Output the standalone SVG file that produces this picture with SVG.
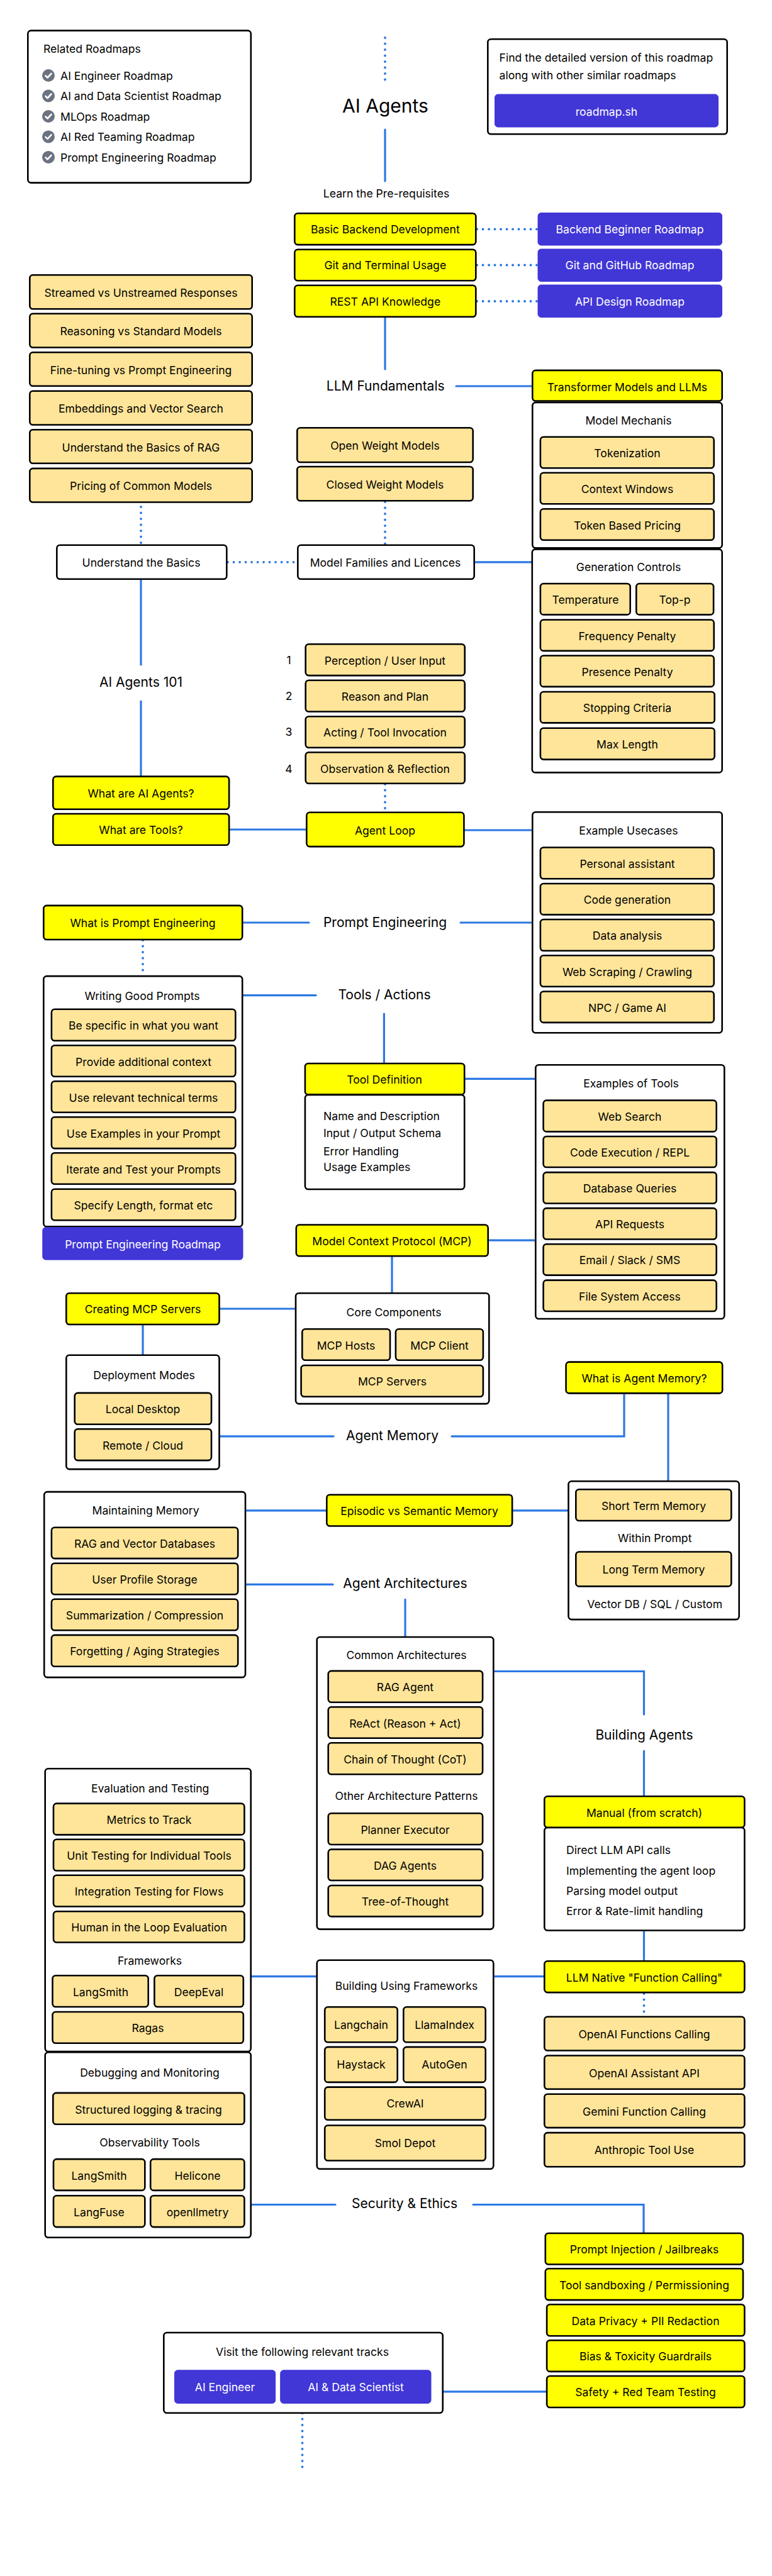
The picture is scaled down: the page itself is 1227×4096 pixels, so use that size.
<svg xmlns="http://www.w3.org/2000/svg" width="1227" height="4096" viewBox="0 0 1227 4096">
<style>
text{font-family:"Inter","Liberation Sans",sans-serif;font-size:17.6px;fill:#000;text-anchor:middle}
.l{text-anchor:start}
.h{font-size:21px}
.w{fill:#fff}
rect{rx:5px;ry:5px;stroke:#000;stroke-width:2.6}
.p{fill:#ffe599}
.y{fill:#ff0}
.b{fill:#fff}
.u{fill:#4136d6;stroke:#4136d6;stroke-width:1}
.s{fill:none;stroke:#2b78e4;stroke-width:3.2;stroke-linecap:round}
.d{fill:none;stroke:#2b78e4;stroke-width:3.8;stroke-linecap:round;stroke-dasharray:.1 9.4}
.c{fill:#6b7280}
.k{fill:none;stroke:#fff;stroke-width:2.6;stroke-linecap:round;stroke-linejoin:round}
</style>
<defs><g id="chk"><circle class="c" r="10"/><path class="k" d="M-4.500 .5L-1.500 3.500L4.500 -3"/></g></defs>
<g id="connectors">
<path class="d" d="M612 60V131"/>
<path class="s" d="M612 206V288"/>
<path class="d" d="M758 364.400H854"/>
<path class="d" d="M758 421.500H854"/>
<path class="d" d="M758 479H854"/>
<path class="s" d="M612 505V587"/>
<path class="s" d="M725 614H845"/>
<path class="d" d="M612 798V865"/>
<path class="d" d="M224 806V865"/>
<path class="d" d="M362 893.800H472"/>
<path class="s" d="M755 893.800H845"/>
<path class="s" d="M224 922V1057"/>
<path class="s" d="M224 1115V1233"/>
<path class="s" d="M365 1319H487"/>
<path class="d" d="M612 1247V1290"/>
<path class="s" d="M739 1320H845"/>
<path class="s" d="M386 1467H491"/>
<path class="s" d="M732 1467H845"/>
<path class="d" d="M227 1495V1546"/>
<path class="s" d="M386 1582.600H502"/>
<path class="s" d="M610.400 1612V1690"/>
<path class="s" d="M739 1715.300H850"/>
<path class="s" d="M777 1972.200H850"/>
<path class="s" d="M623 1998V2055"/>
<path class="s" d="M350 2081H469"/>
<path class="s" d="M227 2107V2153"/>
<path class="s" d="M350 2283.800H530"/>
<path class="s" d="M718 2283.800H992V2217"/>
<path class="s" d="M1062 2217V2354"/>
<path class="s" d="M391 2401.800H518"/>
<path class="s" d="M815 2401.800H902"/>
<path class="s" d="M391 2519.400H529"/>
<path class="s" d="M644 2543.400V2602"/>
<path class="s" d="M786 2657.500H1023.500V2726"/>
<path class="s" d="M1023.500 2784V2855"/>
<path class="s" d="M1023.500 3071V3117"/>
<path class="s" d="M400 3142.600H502"/>
<path class="s" d="M786 3142.600H864"/>
<path class="d" d="M1023.500 3170V3201"/>
<path class="s" d="M400 3505.500H533"/>
<path class="s" d="M752 3505.500H1023V3550"/>
<path class="s" d="M705 3802.900H868"/>
<path class="d" d="M480.500 3837V3926"/>
</g>
<g id="related-roadmaps"><rect class="b" x="44.300" y="48.600" width="354.500" height="242"/>
<text class="l" x="69" y="84">Related Roadmaps</text>
<use href="#chk" x="77" y="120"/><text class="l" x="96" y="126.700">AI Engineer Roadmap</text>
<use href="#chk" x="77" y="152.500"/><text class="l" x="96" y="159">AI and Data Scientist Roadmap</text>
<use href="#chk" x="77" y="185"/><text class="l" x="96" y="191.500">MLOps Roadmap</text>
<use href="#chk" x="77" y="217.400"/><text class="l" x="96" y="224">AI Red Teaming Roadmap</text>
<use href="#chk" x="77" y="249.900"/><text class="l" x="96" y="256.500">Prompt Engineering Roadmap</text></g>
<g id="title"><text x="612.500" y="179" style="font-size:30px">AI Agents</text></g>
<g id="detailed"><rect class="b" x="775.300" y="62.300" width="380.400" height="151"/>
<text class="l" x="793.500" y="98">Find the detailed version of this roadmap</text>
<text class="l" x="793.500" y="126">along with other similar roadmaps</text>
<rect class="u" x="786.500" y="150" width="355" height="52"/><text class="w" x="964" y="183.500">roadmap.sh</text></g>
<g id="prereq"><text x="614" y="314">Learn the Pre-requisites</text></g>
<g id="n-backend"><rect class="y" x="468.300" y="339.300" width="288" height="49.800"/><text x="612.300" y="371">Basic Backend Development</text></g>
<g id="n-git"><rect class="y" x="468.300" y="396.800" width="288" height="49.400"/><text x="612.300" y="428">Git and Terminal Usage</text></g>
<g id="n-rest"><rect class="y" x="468.300" y="453.800" width="288" height="49.900"/><text x="612.300" y="485.500">REST API Knowledge</text></g>
<g id="n-rm1"><rect class="u" x="855" y="338.500" width="292.500" height="51.500"/><text class="w" x="1001" y="371">Backend Beginner Roadmap</text></g>
<g id="n-rm2"><rect class="u" x="855" y="396" width="292.500" height="51.500"/><text class="w" x="1001" y="428">Git and GitHub Roadmap</text></g>
<g id="n-rm3"><rect class="u" x="855" y="453" width="292.500" height="51.500"/><text class="w" x="1001" y="485.500">API Design Roadmap</text></g>
<g id="n-streamed"><rect class="p" x="47.300" y="437.300" width="353.400" height="53.900"/><text x="224" y="472">Streamed vs Unstreamed Responses</text></g>
<g id="n-reasoning"><rect class="p" x="47.300" y="498.800" width="353.400" height="53.700"/><text x="224" y="533">Reasoning vs Standard Models</text></g>
<g id="n-finetuning"><rect class="p" x="47.300" y="560.200" width="353.400" height="53.500"/><text x="224" y="595">Fine-tuning vs Prompt Engineering</text></g>
<g id="n-embeddings"><rect class="p" x="47.300" y="621.800" width="353.400" height="53.700"/><text x="224" y="656">Embeddings and Vector Search</text></g>
<g id="n-rag"><rect class="p" x="47.300" y="683.200" width="353.400" height="53.600"/><text x="224" y="717.500">Understand the Basics of RAG</text></g>
<g id="n-pricing"><rect class="p" x="47.300" y="744.900" width="353.400" height="53.600"/><text x="224" y="779">Pricing of Common Models</text></g>
<g id="llm"><text class="h" x="612.700" y="621">LLM Fundamentals</text></g>
<g id="n-transformer"><rect class="y" x="846.300" y="588.900" width="301.400" height="48.600"/><text x="997" y="622">Transformer Models and LLMs</text></g>
<g id="mechanis"><rect class="b" x="846.300" y="640" width="301.400" height="231.300"/><text x="999" y="674.500">Model Mechanis</text>
<rect class="p" x="858.900" y="694.800" width="275.800" height="49.400"/><text x="997" y="727">Tokenization</text>
<rect class="p" x="858.900" y="751.800" width="275.800" height="49.400"/><text x="997" y="784">Context Windows</text>
<rect class="p" x="858.900" y="809.300" width="275.800" height="49.400"/><text x="997" y="841.500">Token Based Pricing</text></g>
<g id="generation"><rect class="b" x="845.800" y="873.400" width="301.900" height="355"/><text x="999" y="908">Generation Controls</text>
<rect class="p" x="858.900" y="928" width="142.800" height="49.400"/><text x="930.500" y="960">Temperature</text>
<rect class="p" x="1011.300" y="928" width="122.800" height="49.400"/><text x="1072.500" y="960">Top-p</text>
<rect class="p" x="858.900" y="985.500" width="275.800" height="49.400"/><text x="997" y="1017.500">Frequency Penalty</text>
<rect class="p" x="858.900" y="1042.500" width="275.800" height="49.400"/><text x="997" y="1074.500">Presence Penalty</text>
<rect class="p" x="858.900" y="1100" width="276.800" height="49.400"/><text x="997" y="1132">Stopping Criteria</text>
<rect class="p" x="858.900" y="1157.800" width="276.800" height="49.800"/><text x="997" y="1190">Max Length</text></g>
<g id="n-open"><rect class="p" x="472.300" y="680.300" width="279.400" height="54.700"/><text x="612" y="715">Open Weight Models</text></g>
<g id="n-closed"><rect class="p" x="472.300" y="742" width="279.400" height="54.300"/><text x="612" y="776.500">Closed Weight Models</text></g>
<g id="n-families"><rect class="b" x="473.300" y="866.700" width="280.400" height="54.100"/><text x="612.500" y="900.500">Model Families and Licences</text></g>
<g id="n-basics"><rect class="b" x="90.300" y="866.700" width="270" height="54.100"/><text x="224.500" y="900.500">Understand the Basics</text></g>
<g id="agents101"><text class="h" x="224" y="1092">AI Agents 101</text></g>
<g id="steps"><text x="459" y="1055.500">1</text><text x="459" y="1113">2</text><text x="459" y="1170">3</text><text x="459" y="1228.500">4</text></g>
<g id="n-perception"><rect class="p" x="485.700" y="1024.300" width="253" height="49.800"/><text x="612" y="1057">Perception / User Input</text></g>
<g id="n-reason"><rect class="p" x="485.700" y="1081.700" width="253" height="49.800"/><text x="612" y="1114">Reason and Plan</text></g>
<g id="n-acting"><rect class="p" x="485.700" y="1139.200" width="253" height="49.500"/><text x="612" y="1171">Acting / Tool Invocation</text></g>
<g id="n-observation"><rect class="p" x="485.700" y="1196.300" width="253" height="49.400"/><text x="612" y="1229">Observation &amp; Reflection</text></g>
<g id="n-whatagents"><rect class="y" x="84.300" y="1234.600" width="279.800" height="52.100"/><text x="224" y="1268">What are AI Agents?</text></g>
<g id="n-whattools"><rect class="y" x="84.300" y="1294" width="279.800" height="49.700"/><text x="224" y="1326">What are Tools?</text></g>
<g id="n-loop"><rect class="y" x="487.300" y="1291.700" width="250.100" height="54.400"/><text x="612" y="1326.500">Agent Loop</text></g>
<g id="usecases"><rect class="b" x="846.300" y="1291.300" width="301.400" height="350.900"/><text x="999" y="1327">Example Usecases</text>
<rect class="p" x="858.900" y="1347.500" width="275.800" height="49.800"/><text x="997" y="1380">Personal assistant</text>
<rect class="p" x="858.900" y="1405" width="275.800" height="49.400"/><text x="997" y="1437">Code generation</text>
<rect class="p" x="858.900" y="1462" width="275.800" height="49.700"/><text x="997" y="1494">Data analysis</text>
<rect class="p" x="858.900" y="1519.300" width="275.800" height="49.400"/><text x="997" y="1551.500">Web Scraping / Crawling</text>
<rect class="p" x="858.900" y="1576.500" width="275.800" height="49.400"/><text x="997" y="1608.500">NPC / Game AI</text></g>
<g id="n-whatprompt"><rect class="y" x="69.300" y="1439.900" width="315.900" height="54.100"/><text x="227" y="1474">What is Prompt Engineering</text></g>
<g id="promptengineering"><text class="h" x="612" y="1473.500">Prompt Engineering</text></g>
<g id="writing"><rect class="b" x="69.300" y="1552.100" width="315.900" height="398.300"/><text x="226" y="1589.500">Writing Good Prompts</text>
<rect class="p" x="81.900" y="1604.800" width="292.400" height="49.900"/><text x="228" y="1637">Be specific in what you want</text>
<rect class="p" x="81.900" y="1662.300" width="292.400" height="49.400"/><text x="228" y="1694.500">Provide additional context</text>
<rect class="p" x="81.900" y="1719.300" width="292.400" height="49.400"/><text x="228" y="1751.500">Use relevant technical terms</text>
<rect class="p" x="81.900" y="1776.300" width="292.400" height="49.800"/><text x="228" y="1808.500">Use Examples in your Prompt</text>
<rect class="p" x="81.900" y="1833.300" width="292.400" height="49.400"/><text x="228" y="1866">Iterate and Test your Prompts</text>
<rect class="p" x="81.900" y="1890.800" width="292.400" height="49.400"/><text x="228" y="1923">Specify Length, format etc</text></g>
<g id="n-promptrm"><rect class="u" x="67.800" y="1951.500" width="318.200" height="51.600"/><text class="w" x="227" y="1985">Prompt Engineering Roadmap</text></g>
<g id="tools"><text class="h" x="611" y="1589">Tools / Actions</text></g>
<g id="n-tooldef"><rect class="b" x="484.900" y="1741" width="253.300" height="150"/><rect class="y" x="484.900" y="1691" width="253.300" height="49.400"/><text x="611" y="1723">Tool Definition</text>
<text class="l" x="514" y="1781">Name and Description</text><text class="l" x="514" y="1808">Input / Output Schema</text><text class="l" x="514" y="1836.500">Error Handling</text><text class="l" x="514" y="1862">Usage Examples</text></g>
<g id="examplestools"><rect class="b" x="851.300" y="1693.300" width="300" height="403.700"/><text x="1003" y="1728.500">Examples of Tools</text>
<rect class="p" x="863.600" y="1749.600" width="275.100" height="49.800"/><text x="1001" y="1782">Web Search</text>
<rect class="p" x="863.600" y="1807" width="275.100" height="49"/><text x="1001" y="1839">Code Execution / REPL</text>
<rect class="p" x="863.600" y="1864.100" width="275.100" height="49.400"/><text x="1001" y="1896">Database Queries</text>
<rect class="p" x="863.600" y="1921.100" width="275.100" height="49.400"/><text x="1001" y="1953">API Requests</text>
<rect class="p" x="863.600" y="1978.200" width="275.100" height="49.400"/><text x="1001" y="2010">Email / Slack / SMS</text>
<rect class="p" x="863.600" y="2035.600" width="275.100" height="49.400"/><text x="1001" y="2067.500">File System Access</text></g>
<g id="n-mcp"><rect class="y" x="470.800" y="1947.500" width="304.900" height="49.800"/><text x="623" y="1980">Model Context Protocol (MCP)</text></g>
<g id="core"><rect class="b" x="470" y="2056.300" width="307.300" height="175.800"/><text x="626" y="2092.500">Core Components</text>
<rect class="p" x="480.300" y="2113.300" width="139.700" height="49.400"/><text x="550" y="2145.500">MCP Hosts</text>
<rect class="p" x="628.900" y="2113.300" width="139" height="49.400"/><text x="698.500" y="2145.500">MCP Client</text>
<rect class="p" x="478.600" y="2171" width="289.300" height="49.800"/><text x="623.500" y="2203">MCP Servers</text></g>
<g id="n-creating"><rect class="y" x="105.300" y="2056.300" width="243.200" height="49.700"/><text x="227" y="2088">Creating MCP Servers</text></g>
<g id="deployment"><rect class="b" x="105.300" y="2154.700" width="243.200" height="181.400"/><text x="229" y="2192.500">Deployment Modes</text>
<rect class="p" x="118.700" y="2214.900" width="217.300" height="49.800"/><text x="227" y="2247">Local Desktop</text>
<rect class="p" x="118.700" y="2272.300" width="217.300" height="49.800"/><text x="227" y="2304.500">Remote / Cloud</text></g>
<g id="agentmemory"><text class="h" x="623.600" y="2290">Agent Memory</text></g>
<g id="n-whatmemory"><rect class="y" x="899.600" y="2165.600" width="248.600" height="49.800"/><text x="1024" y="2198">What is Agent Memory?</text></g>
<g id="memorybox"><rect class="b" x="903.500" y="2355.300" width="271.200" height="219.800"/>
<rect class="p" x="915.300" y="2368.300" width="247" height="49.700"/><text x="1039" y="2400.500">Short Term Memory</text>
<text x="1040.700" y="2452">Within Prompt</text>
<rect class="p" x="915.300" y="2467.500" width="247" height="54.900"/><text x="1039" y="2502">Long Term Memory</text>
<text x="1040.700" y="2557">Vector DB / SQL / Custom</text></g>
<g id="n-episodic"><rect class="y" x="519.300" y="2376.700" width="294.800" height="49.800"/><text x="666.500" y="2409">Episodic vs Semantic Memory</text></g>
<g id="maintaining"><rect class="b" x="70.200" y="2372.100" width="319.800" height="295"/><text x="231.600" y="2408">Maintaining Memory</text>
<rect class="p" x="81.900" y="2428.700" width="296.300" height="49.400"/><text x="230" y="2461">RAG and Vector Databases</text>
<rect class="p" x="81.900" y="2485.800" width="296.300" height="49.400"/><text x="230" y="2518">User Profile Storage</text>
<rect class="p" x="81.900" y="2542.800" width="296.300" height="49.400"/><text x="230" y="2575">Summarization / Compression</text>
<rect class="p" x="81.900" y="2599.900" width="296.300" height="49.800"/><text x="230" y="2632">Forgetting / Aging Strategies</text></g>
<g id="architectures"><text class="h" x="644" y="2525">Agent Architectures</text></g>
<g id="common"><rect class="b" x="503.700" y="2603" width="280.600" height="464.600"/><text x="646" y="2637.500">Common Architectures</text>
<rect class="p" x="521.700" y="2656.900" width="245.400" height="49.800"/><text x="644" y="2689">RAG Agent</text>
<rect class="p" x="521.700" y="2714.300" width="245.400" height="49.400"/><text x="644" y="2746.500">ReAct (Reason + Act)</text>
<rect class="p" x="521.700" y="2771.300" width="245.400" height="49.900"/><text x="644" y="2803.500">Chain of Thought (CoT)</text>
<text x="646" y="2862">Other Architecture Patterns</text>
<rect class="p" x="521.700" y="2883.200" width="245.400" height="49.800"/><text x="644" y="2915.500">Planner Executor</text>
<rect class="p" x="521.700" y="2940.600" width="245.400" height="49.400"/><text x="644" y="2972.500">DAG Agents</text>
<rect class="p" x="521.700" y="2998" width="245.400" height="49.400"/><text x="644" y="3030">Tree-of-Thought</text></g>
<g id="buildingagents"><text class="h" x="1024" y="2765.500">Building Agents</text></g>
<g id="n-manual"><rect class="b" x="865.300" y="2906" width="318.100" height="163.500"/><rect class="y" x="865.300" y="2856.300" width="318.100" height="49.400"/><text x="1024" y="2888.500">Manual (from scratch)</text>
<text class="l" x="900" y="2947.500">Direct LLM API calls</text><text class="l" x="900" y="2980.500">Implementing the agent loop</text><text class="l" x="900" y="3013">Parsing model output</text><text class="l" x="900" y="3045">Error &amp; Rate-limit handling</text></g>
<g id="evaluation"><rect class="b" x="71.700" y="2812.300" width="327" height="449.700"/><text x="238.700" y="2849.500">Evaluation and Testing</text>
<rect class="p" x="85" y="2867.600" width="303.400" height="49.800"/><text x="237" y="2900">Metrics to Track</text>
<rect class="p" x="85" y="2924.700" width="303.400" height="49.800"/><text x="237" y="2957">Unit Testing for Individual Tools</text>
<rect class="p" x="85" y="2981.700" width="303.400" height="49.800"/><text x="237" y="3014">Integration Testing for Flows</text>
<rect class="p" x="85" y="3039.300" width="303.400" height="49.200"/><text x="237" y="3071">Human in the Loop Evaluation</text>
<text x="238" y="3124">Frameworks</text>
<rect class="p" x="83.500" y="3141.300" width="152.200" height="49.700"/><text x="160" y="3173.500">LangSmith</text>
<rect class="p" x="245.400" y="3141.300" width="141.400" height="49.700"/><text x="316" y="3173.500">DeepEval</text>
<rect class="p" x="83.500" y="3199" width="303.300" height="49.800"/><text x="235" y="3231">Ragas</text></g>
<g id="debugging"><rect class="b" x="71.700" y="3263.300" width="327" height="294.400"/><text x="238" y="3302">Debugging and Monitoring</text>
<rect class="p" x="84.300" y="3327.900" width="304.100" height="49.800"/><text x="236" y="3360.500">Structured logging &amp; tracing</text>
<text x="238" y="3412.500">Observability Tools</text>
<rect class="p" x="85" y="3433.100" width="145.300" height="49.800"/><text x="157.500" y="3465.500">LangSmith</text>
<rect class="p" x="239.200" y="3433.100" width="149.200" height="49.800"/><text x="314" y="3465.500">Helicone</text>
<rect class="p" x="85" y="3491.300" width="145.300" height="49.800"/><text x="157.500" y="3524">LangFuse</text>
<rect class="p" x="239.200" y="3491.300" width="149.200" height="49.800"/><text x="314" y="3524">openllmetry</text></g>
<g id="frameworks"><rect class="b" x="503.700" y="3116.800" width="280.600" height="331.900"/><text x="646" y="3164">Building Using Frameworks</text>
<rect class="p" x="516.200" y="3191.300" width="115.500" height="56"/><text x="574" y="3225.500">Langchain</text>
<rect class="p" x="641.300" y="3191.300" width="130.400" height="56"/><text x="706.500" y="3225.500">LlamaIndex</text>
<rect class="p" x="516.200" y="3254.900" width="115.500" height="56"/><text x="574" y="3289">Haystack</text>
<rect class="p" x="641.300" y="3254.900" width="130.400" height="56"/><text x="706.500" y="3289">AutoGen</text>
<rect class="p" x="516.200" y="3318.600" width="255.500" height="52.100"/><text x="644" y="3351">CrewAI</text>
<rect class="p" x="516.200" y="3379.500" width="255.500" height="56"/><text x="644" y="3414">Smol Depot</text></g>
<g id="n-native"><rect class="y" x="865.300" y="3118.300" width="318.100" height="49.800"/><text x="1024" y="3150.500">LLM Native "Function Calling"</text></g>
<g id="n-openaif"><rect class="p" x="865.300" y="3206.800" width="318.100" height="53.700"/><text x="1024" y="3241">OpenAI Functions Calling</text></g>
<g id="n-openaia"><rect class="p" x="865.300" y="3268.500" width="318.100" height="53.200"/><text x="1024" y="3302.500">OpenAI Assistant API</text></g>
<g id="n-gemini"><rect class="p" x="865.300" y="3329.800" width="318.100" height="53.300"/><text x="1024" y="3364">Gemini Function Calling</text></g>
<g id="n-anthropic"><rect class="p" x="865.300" y="3391.100" width="318.100" height="54.100"/><text x="1024" y="3425">Anthropic Tool Use</text></g>
<g id="security"><text class="h" x="643" y="3511">Security &amp; Ethics</text></g>
<g id="n-injection"><rect class="y" x="866.800" y="3551" width="314.200" height="49.500"/><text x="1024" y="3583">Prompt Injection / Jailbreaks</text></g>
<g id="n-sandbox"><rect class="y" x="866.800" y="3607.300" width="314.200" height="49.800"/><text x="1024" y="3640">Tool sandboxing / Permissioning</text></g>
<g id="n-privacy"><rect class="y" x="869.100" y="3664.200" width="314.300" height="50"/><text x="1026" y="3696.500">Data Privacy + PII Redaction</text></g>
<g id="n-bias"><rect class="y" x="869.100" y="3721.300" width="314.300" height="49.600"/><text x="1026" y="3753">Bias &amp; Toxicity Guardrails</text></g>
<g id="n-safety"><rect class="y" x="869.100" y="3778" width="314.300" height="50"/><text x="1026" y="3810">Safety + Red Team Testing</text></g>
<g id="visit"><rect class="b" x="260.300" y="3709" width="443.400" height="127.700"/><text x="480.500" y="3745.500">Visit the following relevant tracks</text>
<rect class="u" x="277.500" y="3768.800" width="160.200" height="52.600"/><text class="w" x="357.500" y="3802">AI Engineer</text>
<rect class="u" x="445.700" y="3768.800" width="239.300" height="52.600"/><text class="w" x="565.500" y="3802">AI &amp; Data Scientist</text></g>
</svg>
